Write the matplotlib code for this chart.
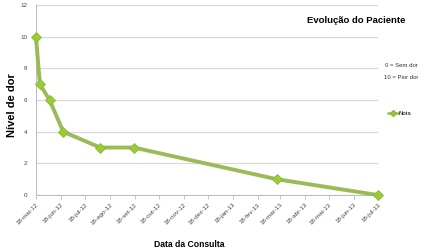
import numpy as np
import matplotlib
matplotlib.use('Agg')
import matplotlib.pyplot as plt
import matplotlib.dates as mdates
from matplotlib.lines import Line2D
from datetime import date

# dados da evolução
datas = [date(2012, 5, 18), date(2012, 5, 23), date(2012, 6, 4), date(2012, 6, 21),
         date(2012, 8, 6), date(2012, 9, 17), date(2013, 3, 14), date(2013, 7, 18)]
notas = [10, 7, 6, 4, 3, 3, 1, 0]

tick_datas = [date(2012, m, 18) for m in range(5, 13)] + [date(2013, m, 18) for m in range(1, 8)]
tick_labels = ['18-mai-12', '18-jun-12', '18-jul-12', '18-ago-12', '18-set-12', '18-out-12',
               '18-nov-12', '18-dez-12', '18-jan-13', '18-fev-13', '18-mar-13', '18-abr-13',
               '18-mai-13', '18-jun-13', '18-jul-13']

plt.rcParams['font.family'] = ['Liberation Sans', 'DejaVu Sans']

fig = plt.figure(figsize=(4.38, 2.52), dpi=100)
ax = fig.add_axes([0.082, 0.226, 0.781, 0.754])

linha = '#9BBB59'
marc = '#9ACD32'
ax.plot(datas, notas, color=linha, linewidth=2.8, marker='D', markersize=5,
        markerfacecolor=marc, markeredgecolor='#8DB43E', markeredgewidth=0.6,
        zorder=3, clip_on=False)

ax.set_ylim(0, 12)
ax.set_yticks(range(0, 13, 2))
ax.set_xlim(mdates.date2num(tick_datas[0]), mdates.date2num(tick_datas[-1]))
ax.set_xticks(mdates.date2num(tick_datas))
ax.set_xticklabels(tick_labels, rotation=45, ha='right', rotation_mode='anchor',
                   fontsize=4.5, color='#444444')
ax.tick_params(axis='y', labelsize=4.5, colors='#444444', length=0, pad=6)
ax.tick_params(axis='x', length=3, color='#BBBBBB', width=0.6, pad=2)

ax.grid(axis='y', color='#D9D9D9', linewidth=0.9)
ax.set_axisbelow(True)
for s in ['top', 'right']:
    ax.spines[s].set_visible(False)
for s in ['left', 'bottom']:
    ax.spines[s].set_color('#BBBBBB')
    ax.spines[s].set_linewidth(0.7)

fig.text(0.814, 0.917, 'Evolução do Paciente', fontsize=6.8, fontweight='bold',
         ha='center', va='center')
fig.text(0.879, 0.742, '0 = Sem dor', fontsize=4.3, ha='left', va='center', color='#333333')
fig.text(0.876, 0.694, '10 = Pior dor', fontsize=4.3, ha='left', va='center', color='#333333')
fig.text(0.028, 0.583, 'Nível de dor', fontsize=8, fontweight='bold',
         rotation=90, ha='center', va='center')
fig.text(0.432, 0.03, 'Data da Consulta', fontsize=6.2, fontweight='bold',
         ha='center', va='center')

h = Line2D([], [], color=linha, linewidth=1.8, marker='D', markersize=3,
           markerfacecolor=marc, markeredgecolor='#8DB43E')
fig.legend([h], ['Nota'], loc='center left', bbox_to_anchor=(0.885, 0.548),
           frameon=False, fontsize=4.3, handlelength=1.7, handletextpad=0.1,
           borderpad=0, borderaxespad=0)

fig.savefig('out.png', dpi=100)
